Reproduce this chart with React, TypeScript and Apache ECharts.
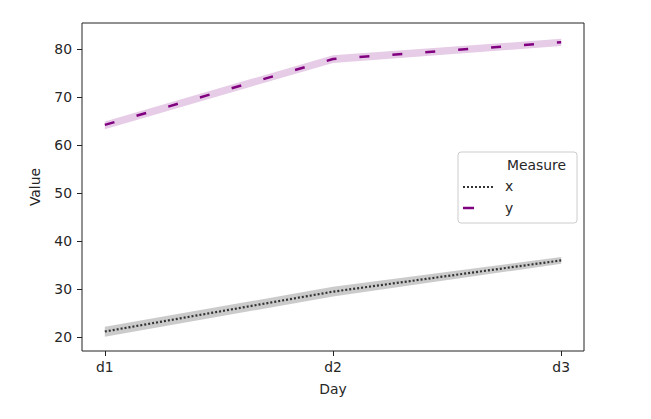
import React, { useEffect, useRef } from "react";
import * as echarts from "echarts";

const days = ["d1", "d2", "d3"];
const yTicks = [20, 30, 40, 50, 60, 70, 80];
const xMean = [21.2, 29.5, 36.0];
const xLow = [20.1, 28.5, 35.3];
const xHigh = [22.2, 30.5, 36.7];
const yMean = [64.2, 77.9, 81.4];
const yLow = [63.3, 77.1, 80.6];
const yHigh = [64.9, 78.7, 82.1];

const FONT = "DejaVu Sans";
const TXT = "#262626";

function band(low: number[], high: number[], fill: string) {
  return {
    type: "custom",
    data: days.map((_, i) => [i, low[i], high[i]]),
    encode: { x: 0, y: [1, 2] },
    silent: true,
    z: 1,
    renderItem: (params: any, api: any) => {
      if (params.dataIndex !== 0) return null;
      const pts: number[][] = [];
      for (let i = 0; i < days.length; i++) pts.push(api.coord([i, high[i]]));
      for (let i = days.length - 1; i >= 0; i--) pts.push(api.coord([i, low[i]]));
      return { type: "polygon", shape: { points: pts }, style: { fill, stroke: "none" } };
    },
  };
}

export default function App() {
  const ref = useRef<HTMLDivElement>(null);
  useEffect(() => {
    const chart = echarts.init(ref.current!, null, { renderer: "svg" });
    const legendX = 458;
    const legendY = 152;
    chart.setOption({
      animation: false,
      grid: {
        left: 82,
        right: 67,
        top: 23,
        bottom: 68,
        show: true,
        borderColor: "#222",
        borderWidth: 1,
        backgroundColor: "transparent",
      },
      xAxis: {
        type: "value",
        min: -0.1,
        max: 2.1,
        name: "Day",
        nameLocation: "middle",
        nameGap: 31,
        nameTextStyle: { fontFamily: FONT, fontSize: 13.9, color: TXT },
        axisLine: { show: false, onZero: false },
        splitLine: { show: false },
        axisTick: { show: true, length: 5, customValues: [0, 1, 2], lineStyle: { color: "#222" } },
        axisLabel: {
          customValues: [0, 1, 2],
          formatter: (v: number) => days[Math.round(v)] ?? "",
          fontFamily: FONT,
          fontSize: 13.9,
          color: TXT,
          margin: 9,
        },
      },
      yAxis: {
        type: "value",
        min: 17.15,
        max: 85.4,
        name: "Value",
        nameLocation: "middle",
        nameGap: 40,
        nameRotate: 90,
        nameTextStyle: { fontFamily: FONT, fontSize: 13.9, color: TXT },
        axisLine: { show: false, onZero: false },
        splitLine: { show: false },
        axisTick: { show: true, length: 5, customValues: yTicks, lineStyle: { color: "#222" } },
        axisLabel: {
          customValues: yTicks,
          fontFamily: FONT,
          fontSize: 13.9,
          color: TXT,
          margin: 10,
        },
      },
      series: [
        band(xLow, xHigh, "rgba(70,70,70,0.28)"),
        band(yLow, yHigh, "rgba(128,0,128,0.2)"),
        {
          type: "line",
          name: "x",
          data: days.map((_, i) => [i, xMean[i]]),
          showSymbol: false,
          z: 3,
          lineStyle: { color: "#333333", width: 2.2, type: [2, 2], cap: "butt" },
        },
        {
          type: "line",
          name: "y",
          data: days.map((_, i) => [i, yMean[i]]),
          showSymbol: false,
          z: 3,
          lineStyle: { color: "#800080", width: 2.5, type: [10, 23], cap: "butt" },
        },
      ],
      graphic: [
        {
          type: "rect",
          z: 100,
          shape: { x: legendX, y: legendY, width: 119, height: 71, r: 3 },
          style: { fill: "rgba(255,255,255,0.8)", stroke: "#cccccc", lineWidth: 1 },
        },
        {
          type: "text",
          z: 101,
          x: 507,
          y: 165,
          style: { text: "Measure", fontFamily: FONT, fontSize: 13.9, fill: TXT, verticalAlign: "middle", align: "left" },
        },
        {
          type: "line",
          z: 101,
          shape: { x1: 463, y1: 187, x2: 493, y2: 187 },
          style: { stroke: "#333333", lineWidth: 2.2, lineDash: [2, 2] },
        },
        {
          type: "text",
          z: 101,
          x: 505,
          y: 186,
          style: { text: "x", fontFamily: FONT, fontSize: 13.9, fill: TXT, verticalAlign: "middle", align: "left" },
        },
        {
          type: "line",
          z: 101,
          shape: { x1: 463, y1: 208, x2: 493, y2: 208 },
          style: { stroke: "#800080", lineWidth: 2.5, lineDash: [11, 23] },
        },
        {
          type: "text",
          z: 101,
          x: 505,
          y: 208,
          style: { text: "y", fontFamily: FONT, fontSize: 13.9, fill: TXT, verticalAlign: "middle", align: "left" },
        },
      ],
    });
    return () => chart.dispose();
  }, []);
  return (
    <div
      ref={ref}
      style={{ position: "absolute", left: 0, top: 0, width: 651, height: 419, background: "#fff" }}
    />
  );
}
